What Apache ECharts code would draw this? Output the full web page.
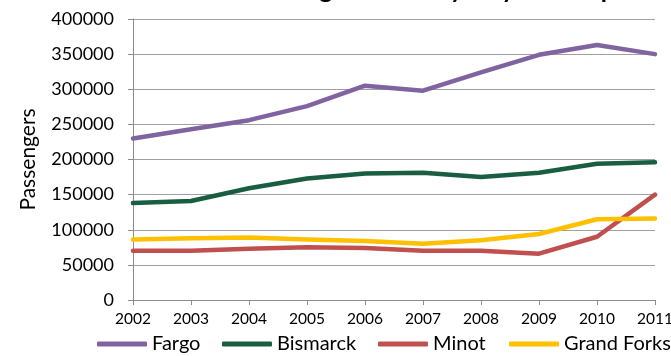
<!DOCTYPE html>
<html>
<head>
<meta charset="utf-8">
<script src="https://cdn.jsdelivr.net/npm/echarts@6/dist/echarts.min.js"></script>
<style>
  html, body { margin: 0; padding: 0; background: #ffffff; }
  #chart { width: 671px; height: 356px; }
</style>
</head>
<body>
<div id="chart"></div>
<script>
// Annual passengers at the four main North Dakota airports
const years = ['2002', '2003', '2004', '2005', '2006', '2007', '2008', '2009', '2010', '2011'];
const fargo = [230000, 243000, 256000, 276000, 305000, 298000, 324000, 349000, 363000, 350000];
const bismarck = [138000, 141000, 159000, 173000, 180000, 181000, 175000, 181000, 194000, 196000];
const minot = [70000, 70000, 73000, 75000, 74000, 70000, 70000, 66000, 90000, 150000];
const grandForks = [86000, 88000, 89000, 86000, 84000, 80000, 85000, 94000, 115000, 116000];

const seriesNames = ['Fargo', 'Bismarck', 'Minot', 'Grand Forks'];
const seriesData = [fargo, bismarck, minot, grandForks];
const seriesColors = ['#8064A2', '#1A5E41', '#C0504D', '#FFC000'];

const titleText = 'Passenger Traffic by City and Airport';
const axisTitle = 'Passengers';

const FONT = 'Lato, "Open Sans", sans-serif';
const AXIS_GRAY = '#8C8C8C';

// left edge of each legend entry along the bottom row
const legendLefts = [97, 222, 378, 509];

const chart = echarts.init(document.getElementById('chart'), null, { renderer: 'canvas' });

chart.setOption({
  animation: false,
  backgroundColor: '#ffffff',
  textStyle: { fontFamily: FONT },
  graphic: [{
    type: 'text',
    style: {
      x: 445,
      y: -23,
      text: titleText,
      fontFamily: FONT,
      fontWeight: 'bold',
      fontSize: 25,
      fill: '#000000',
      align: 'center',
      verticalAlign: 'top'
    },
    silent: true
  }],
  grid: {
    left: 133,
    right: 16,
    top: 19,
    bottom: 56,
    containLabel: false,
    outerBoundsMode: 'none'
  },
  legend: seriesNames.map((name, i) => ({
    data: [name],
    top: 334,
    left: legendLefts[i],
    icon: 'roundRect',
    itemWidth: 50,
    itemHeight: 5,
    padding: 0,
    selectedMode: false,
    textStyle: { fontFamily: FONT, fontSize: 20, color: '#000000' }
  })),
  xAxis: {
    type: 'category',
    data: years,
    boundaryGap: false,
    axisLine: { show: true, lineStyle: { color: AXIS_GRAY, width: 1 } },
    axisTick: { show: true, alignWithLabel: true, length: 5, lineStyle: { color: AXIS_GRAY } },
    axisLabel: { fontFamily: FONT, fontSize: 15.5, color: '#000000', margin: 11, interval: 0 },
    splitLine: { show: false }
  },
  yAxis: {
    type: 'value',
    min: 0,
    max: 400000,
    interval: 50000,
    name: axisTitle,
    nameLocation: 'middle',
    nameGap: 94,
    nameRotate: 90,
    nameTextStyle: { fontFamily: FONT, fontSize: 21, color: '#000000' },
    axisLine: { show: true, lineStyle: { color: AXIS_GRAY, width: 1 } },
    axisTick: { show: true, length: 5, lineStyle: { color: AXIS_GRAY } },
    axisLabel: {
      fontFamily: FONT, fontSize: 18, color: '#000000', margin: 19,
      formatter: (v) => String(v)
    },
    splitLine: { show: true, lineStyle: { color: '#A0A0A0', width: 1 } }
  },
  series: seriesNames.map((name, i) => ({
    name: name,
    type: 'line',
    data: seriesData[i],
    color: seriesColors[i],
    showSymbol: false,
    symbol: 'none',
    lineStyle: { width: 4.5, color: seriesColors[i], cap: 'round', join: 'round' },
    emphasis: { disabled: true }
  }))
});
</script>
</body>
</html>
